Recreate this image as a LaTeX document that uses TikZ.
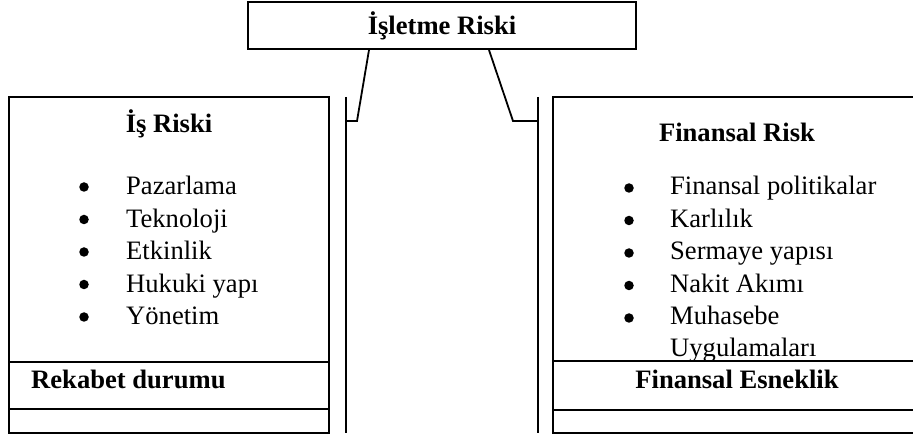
\documentclass[tikz,border=0pt]{standalone}
\usepackage{fontspec}
\setmainfont{Liberation Serif}
\usetikzlibrary{calc}
\tikzset{
  frame/.style={draw=black, line width=2pt},
  wire/.style={draw=black, line width=1.8pt},
  txt/.style={inner sep=0pt, anchor=base west, font=\fontsize{26.6}{32}\selectfont},
  head/.style={inner sep=0pt, anchor=base, font=\fontsize{26.6}{32}\selectfont\bfseries},
  dot/.style={circle, fill=black, inner sep=0pt, minimum size=9.5pt},
}
\begin{document}
\begin{tikzpicture}[x=1pt,y=-1pt]
\useasboundingbox (0,0) rectangle (913,438);
\clip (0,0) rectangle (913,438);

% top box
\node[frame, minimum width=388pt, minimum height=47pt, inner sep=0pt] (top) at (442,25.5) {};
\node[head] (toptxt) at (442,35) {İşletme Riski};

% left panel
\coordinate (lnw) at (9,97);
\coordinate (lse) at (329,433);
\draw[frame] (lnw) rectangle (lse);
\draw[frame] (9,362) -- (329,362);
\draw[frame] (9,409) -- (329,409);
\node[head] (ltitle) at (169,133) {İş Riski};
\foreach \t [count=\i] in {Pazarlama,Teknoloji,Etkinlik,Hukuki yapı,Yönetim}{
  \node[dot] (lb\i) at (84,{187+32.5*(\i-1)}) {};
  \node[txt] (lt\i) at (126,{195+32.5*(\i-1)}) {\t};
}
\node[head, anchor=base west] (lfoot) at (31,388) {Rekabet durumu};

% right panel
\coordinate (rnw) at (553,97);
\coordinate (rse) at (930,433);
\draw[frame] (rnw) rectangle (rse);
\draw[frame] (553,410) -- (930,410);
\node[head] (rtitle) at (737,142) {Finansal Risk};
\foreach \t [count=\i] in {Finansal politikalar,Karlılık,Sermaye yapısı,Nakit Akımı,Muhasebe}{
  \node[dot] (rb\i) at (629,{188+32.5*(\i-1)}) {};
  \node[txt] (rt\i) at (670,{195+32.5*(\i-1)}) {\t};
}
\node[txt] (rt6) at (670,356) {Uygulamaları};
% the divider is drawn over the last line of text
\draw[frame] (553,361) -- (930,361);
\node[head] (rfoot) at (737,388) {Finansal Esneklik};

% vertical bars
\coordinate (lbarT) at (346,97);
\coordinate (lbarB) at (346,433);
\coordinate (rbarT) at (538,97);
\coordinate (rbarB) at (538,433);
\draw[wire] (lbarT) -- (lbarB);
\draw[wire] (rbarT) -- (rbarB);

% connectors
\coordinate (lk) at (357,121);
\coordinate (rk) at (513,121);
\draw[wire] ($(top.south west)+(122,0)$) -- (lk) -- (lk -| lbarT);
\draw[wire] ($(top.south west)+(242,0)$) -- (rk) -- (rk -| rbarT);
\end{tikzpicture}
\end{document}
